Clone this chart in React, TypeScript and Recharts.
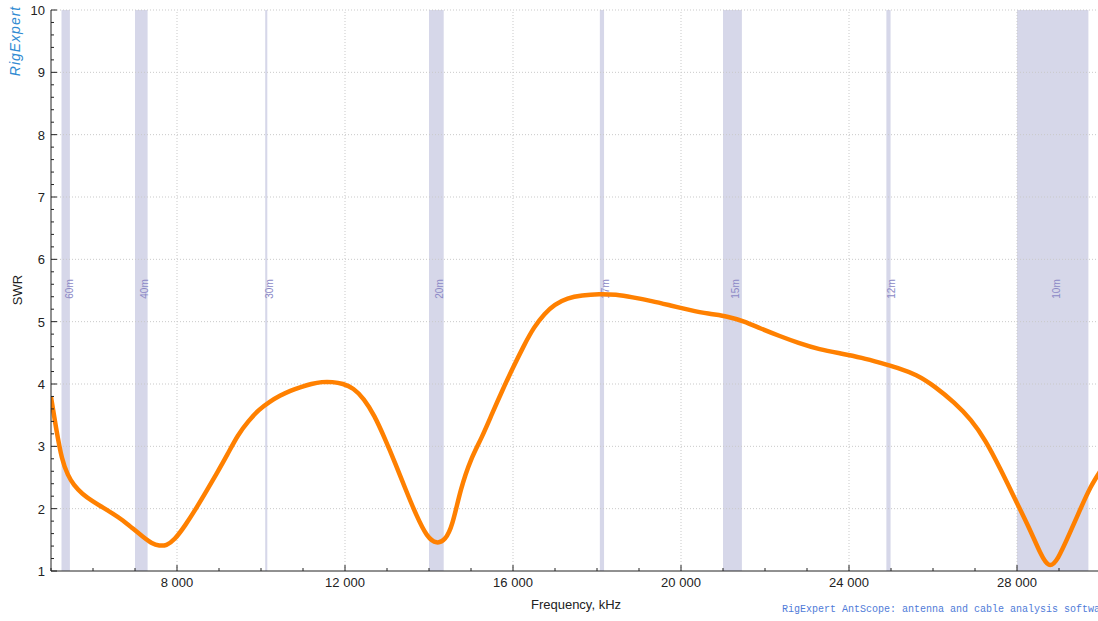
import React from 'react'
import { LineChart, Line, XAxis, YAxis, ReferenceArea, ReferenceLine } from 'recharts'

const freqKhz = [
    5000, 5120, 5260, 5400, 5550, 5750, 5990, 6230, 6470, 6710, 6950, 7190, 7400, 7580, 7750, 7950, 8200, 8450, 8700,
    8950, 9200, 9450, 9700, 9950, 10200, 10450, 10700, 10950, 11200, 11450, 11700, 11950, 12200, 12450, 12700, 12950,
    13200, 13450, 13700, 13950, 14180, 14380, 14560, 14760, 15000, 15250, 15500, 15750, 16000, 16250, 16500, 16750,
    17000, 17300, 17650, 18050, 18450, 18850, 19300, 19750, 20200, 20650, 21100, 21500, 21900, 22350, 22800, 23300,
    23800, 24300, 24750, 25150, 25600, 26050, 26500, 26900, 27250, 27600, 27950, 28300, 28550, 28760, 28980, 29250,
    29500, 29750, 30000
]
const swr = [
    3.79, 3.3, 2.82, 2.55, 2.38, 2.24, 2.12, 2.02, 1.92, 1.81, 1.68, 1.55, 1.45, 1.41, 1.42, 1.52, 1.74, 2.0, 2.28,
    2.57, 2.87, 3.17, 3.4, 3.58, 3.71, 3.81, 3.89, 3.95, 4.0, 4.03, 4.03, 4.0, 3.92, 3.75, 3.48, 3.12,
    2.72, 2.3, 1.9, 1.58, 1.46, 1.52, 1.78, 2.3, 2.78, 3.14, 3.52, 3.9, 4.26, 4.6, 4.9, 5.12,
    5.27, 5.37, 5.42, 5.44, 5.43, 5.39, 5.33, 5.26, 5.19, 5.13, 5.08, 5.0, 4.89, 4.77, 4.66, 4.56,
    4.49, 4.42, 4.34, 4.26, 4.14, 3.95, 3.7, 3.42, 3.08, 2.64, 2.16, 1.67, 1.3, 1.1, 1.22, 1.6,
    1.98, 2.34, 2.62
]

// ham bands shown as shaded strips
const bandNames = ['60m', '40m', '30m', '20m', '17m', '15m', '12m', '10m']
const bandStart = [5250, 7000, 10100, 14000, 18068, 21000, 24890, 28000]
const bandEnd = [5450, 7300, 10150, 14350, 18168, 21450, 24990, 29700]

const xTicks = [
    5000, 6000, 7000, 8000, 9000, 10000, 11000, 12000, 13000, 14000, 15000, 16000, 17000, 18000, 19000, 20000, 21000,
    22000, 23000, 24000, 25000, 26000, 27000, 28000, 29000, 30000
]
const xMajor = [8000, 12000, 16000, 20000, 24000, 28000]
const yTicks = [
    1, 1.2, 1.4, 1.6, 1.8, 2, 2.2, 2.4, 2.6, 2.8, 3, 3.2, 3.4, 3.6, 3.8, 4, 4.2, 4.4, 4.6, 4.8, 5, 5.2, 5.4, 5.6, 5.8,
    6, 6.2, 6.4, 6.6, 6.8, 7, 7.2, 7.4, 7.6, 7.8, 8, 8.2, 8.4, 8.6, 8.8, 9, 9.2, 9.4, 9.6, 9.8, 10
]
const yMajor = [2, 3, 4, 5, 6, 7, 8, 9, 10]

const data = freqKhz.map((f, i) => ({ f, swr: swr[i] }))

const FONT = "'Liberation Sans', Arial, sans-serif"
const fmtK = (v: number) => String(v).replace(/\B(?=(\d{3})+(?!\d))/g, ' ')

const XTick = (props: any) => {
    const { x, y, payload } = props
    const major = xMajor.includes(payload.value)
    return (
        <g>
            <line x1={x} x2={x} y1={y} y2={y - (major ? 6 : 3)} stroke="#222" />
            {major && (
                <text x={x} y={y + 16} textAnchor="middle" fill="#222" fontSize={13} fontFamily={FONT}>
                    {fmtK(payload.value)}
                </text>
            )}
        </g>
    )
}

const YTick = (props: any) => {
    const { x, y, payload } = props
    const major = Number.isInteger(payload.value)
    return (
        <g>
            <line x1={x} x2={x + (major ? 6 : 3)} y1={y} y2={y} stroke="#222" />
            {major && (
                <text x={x - 6} y={y + 5} textAnchor="end" fill="#222" fontSize={13} fontFamily={FONT}>
                    {payload.value}
                </text>
            )}
        </g>
    )
}

const bandLabel = (name: string) => (props: any) => {
    const vb = props.viewBox || {}
    const cx = vb.x + vb.width / 2 + 7
    const cy = 289
    return (
        <text
            x={cx}
            y={cy}
            transform={`rotate(-90 ${cx} ${cy})`}
            textAnchor="middle"
            fill="#8c89c6"
            fontSize={10}
            fontFamily={FONT}
        >
            {name}
        </text>
    )
}

export default function App() {
    return (
        <div style={{ position: 'absolute', left: 0, top: 0, width: 1098, height: 621, overflow: 'hidden', background: '#fff' }}>
            <LineChart width={1120} height={621} data={data} margin={{ top: 10, right: 19, left: 0, bottom: 0 }}>
                <XAxis
                    dataKey="f"
                    type="number"
                    domain={[5000, 30000]}
                    allowDataOverflow
                    ticks={xTicks}
                    interval={0}
                    tick={<XTick />}
                    tickLine={false}
                    tickSize={0}
                    tickMargin={0}
                    height={50}
                    axisLine={{ stroke: '#222' }}
                    label={{ value: 'Frequency, kHz', position: 'insideBottom', offset: 12, fill: '#222', fontSize: 13, fontFamily: FONT }}
                />
                <YAxis
                    type="number"
                    domain={[1, 10]}
                    allowDataOverflow
                    ticks={yTicks}
                    interval={0}
                    tick={<YTick />}
                    tickLine={false}
                    tickSize={0}
                    tickMargin={0}
                    width={51}
                    axisLine={{ stroke: '#222' }}
                />
                {bandNames.map((name, i) => (
                    <ReferenceArea
                        key={name}
                        x1={bandStart[i]}
                        x2={bandEnd[i]}
                        fill="#d6d7e9"
                        fillOpacity={1}
                        stroke="none"
                        label={{ content: bandLabel(name) }}
                    />
                ))}
                {yMajor.map(v => (
                    <ReferenceLine key={'y' + v} y={v} stroke="#c9c9c9" strokeDasharray="1 2" />
                ))}
                {xMajor.map(v => (
                    <ReferenceLine key={'x' + v} x={v} stroke="#c9c9c9" strokeDasharray="1 2" />
                ))}
                <Line type="natural" dataKey="swr" stroke="#ff8000" strokeWidth={4.5} dot={false} isAnimationActive={false} />
            </LineChart>

            <div
                style={{
                    position: 'absolute',
                    left: 17,
                    top: 290,
                    transform: 'translate(-50%, -50%) rotate(-90deg)',
                    fontFamily: FONT,
                    fontSize: 13,
                    color: '#222',
                    whiteSpace: 'nowrap'
                }}
            >
                SWR
            </div>
            <div
                style={{
                    position: 'absolute',
                    left: 15,
                    top: 41,
                    transform: 'translate(-50%, -50%) rotate(-90deg)',
                    fontFamily: FONT,
                    fontSize: 14,
                    fontStyle: 'italic',
                    letterSpacing: 1,
                    color: '#2f8ad2',
                    whiteSpace: 'nowrap'
                }}
            >
                RigExpert
            </div>
            <div
                style={{
                    position: 'absolute',
                    left: 782,
                    top: 604,
                    fontFamily: "'Liberation Mono', 'DejaVu Sans Mono', monospace",
                    fontSize: 10,
                    color: '#4f7bd8',
                    whiteSpace: 'nowrap'
                }}
            >
                RigExpert AntScope: antenna and cable analysis software
            </div>
        </div>
    )
}
